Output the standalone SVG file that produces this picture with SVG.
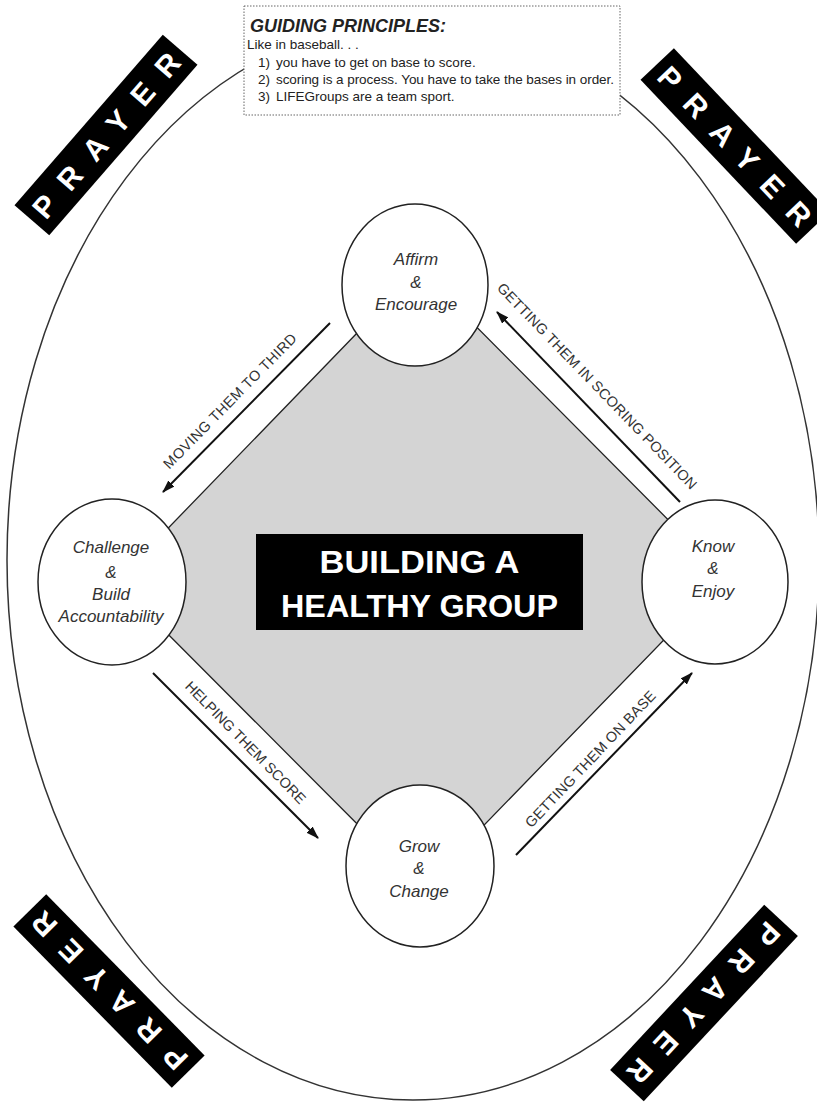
<svg xmlns="http://www.w3.org/2000/svg" width="817" height="1106" viewBox="0 0 817 1106">
<defs>
<style>
.node ellipse{fill:#fff;stroke:#222;stroke-width:1.5}
.nt{font-family:"Liberation Sans",Arial,sans-serif;font-style:italic;font-size:17px;fill:#333;text-anchor:middle}
.lbl{font-family:"Liberation Sans",Arial,sans-serif;font-size:14.5px;fill:#333;text-anchor:middle}
.arr{stroke:#111;stroke-width:2;fill:none;marker-end:url(#ah)}
.ban rect{fill:#000}
.ban text{font-family:"Liberation Sans",Arial,sans-serif;font-weight:bold;font-size:30px;fill:#fff;text-anchor:middle}
.box{font-family:"Liberation Sans",Arial,sans-serif;fill:#222}
.bt{font-size:13.5px}
</style>
<marker id="ah" viewBox="0 0 12 8" refX="11" refY="4" markerWidth="13" markerHeight="9" orient="auto" markerUnits="userSpaceOnUse">
<path d="M0,0 L12,4 L0,8 z" fill="#111"/>
</marker>
</defs>
<rect width="817" height="1106" fill="#fff"/>

<g id="outer">
<ellipse cx="413" cy="560" rx="406" ry="540" fill="none" stroke="#333" stroke-width="1.5"/>
</g>

<g id="guiding-principles">
<rect x="244" y="6" width="376" height="109" fill="#fff" stroke="#666" stroke-width="1" stroke-dasharray="1.5,1.5"/>
<text class="box" x="250" y="32" font-size="18" font-weight="bold" font-style="italic">GUIDING PRINCIPLES:</text>
<text class="box bt" x="247" y="49">Like in baseball. . .</text>
<text class="box bt" x="258" y="67">1)</text>
<text class="box bt" x="276" y="67">you have to get on base to score.</text>
<text class="box bt" x="258" y="84">2)</text>
<text class="box bt" x="276" y="84" textLength="338" lengthAdjust="spacing">scoring is a process. You have to take the bases in order.</text>
<text class="box bt" x="258" y="101">3)</text>
<text class="box bt" x="276" y="101">LIFEGroups are a team sport.</text>
</g>

<g id="prayer-tl" class="ban" transform="translate(106,135) rotate(-49)">
<rect x="-113" y="-23" width="226" height="46"/>
<text x="0" y="11" textLength="208" lengthAdjust="spacing">PRAYER</text>
</g>
<g id="prayer-tr" class="ban" transform="translate(735,146) rotate(46.5)">
<rect x="-113" y="-23" width="226" height="46"/>
<text x="0" y="11" textLength="208" lengthAdjust="spacing">PRAYER</text>
</g>
<g id="prayer-bl" class="ban" transform="translate(109,991) rotate(225.5)">
<rect x="-113" y="-23" width="226" height="46"/>
<text x="0" y="11" textLength="208" lengthAdjust="spacing">PRAYER</text>
</g>
<g id="prayer-br" class="ban" transform="translate(704,1003) rotate(133)">
<rect x="-113" y="-23" width="226" height="46"/>
<text x="0" y="11" textLength="208" lengthAdjust="spacing">PRAYER</text>
</g>

<g id="diamond">
<polygon points="419,269 725,577 422,889 116,582" fill="#d4d4d4" stroke="#222" stroke-width="1.3"/>
</g>

<g id="title">
<rect x="256" y="534" width="327" height="96" fill="#000"/>
<text x="419.5" y="573" font-family="'Liberation Sans',Arial,sans-serif" font-weight="bold" font-size="32" fill="#fff" text-anchor="middle" textLength="200" lengthAdjust="spacingAndGlyphs">BUILDING A</text>
<text x="419.5" y="617" font-family="'Liberation Sans',Arial,sans-serif" font-weight="bold" font-size="32" fill="#fff" text-anchor="middle" textLength="277" lengthAdjust="spacingAndGlyphs">HEALTHY GROUP</text>
</g>

<g id="connectors">
<line class="arr" x1="330" y1="323" x2="163" y2="492"/>
<text class="lbl" transform="translate(233.5,404.5) rotate(-45.5)" textLength="183" lengthAdjust="spacing">MOVING THEM TO THIRD</text>
<line class="arr" x1="680" y1="502" x2="497" y2="312"/>
<text class="lbl" transform="translate(593.5,389.5) rotate(46)" textLength="280" lengthAdjust="spacing">GETTING THEM IN SCORING POSITION</text>
<line class="arr" x1="153" y1="673" x2="318" y2="838"/>
<text class="lbl" transform="translate(242,746) rotate(45.5)" textLength="165" lengthAdjust="spacing">HELPING THEM SCORE</text>
<line class="arr" x1="516" y1="855" x2="692" y2="673"/>
<text class="lbl" transform="translate(594,762.5) rotate(-46.5)" textLength="182" lengthAdjust="spacing">GETTING THEM ON BASE</text>
</g>

<g id="affirm" class="node">
<ellipse cx="415" cy="285" rx="73" ry="81"/>
<text class="nt" x="416" y="265">Affirm</text>
<text class="nt" x="416" y="288">&amp;</text>
<text class="nt" x="416" y="310">Encourage</text>
</g>
<g id="challenge" class="node">
<ellipse cx="112" cy="582" rx="74" ry="83"/>
<text class="nt" x="111" y="553">Challenge</text>
<text class="nt" x="111" y="578">&amp;</text>
<text class="nt" x="111" y="600">Build</text>
<text class="nt" x="111" y="622">Accountability</text>
</g>
<g id="know" class="node">
<ellipse cx="715" cy="582" rx="73" ry="82"/>
<text class="nt" x="713" y="552">Know</text>
<text class="nt" x="713" y="574">&amp;</text>
<text class="nt" x="713" y="597">Enjoy</text>
</g>
<g id="grow" class="node">
<ellipse cx="420" cy="866" rx="74" ry="81"/>
<text class="nt" x="419" y="852">Grow</text>
<text class="nt" x="419" y="874">&amp;</text>
<text class="nt" x="419" y="897">Change</text>
</g>
</svg>
